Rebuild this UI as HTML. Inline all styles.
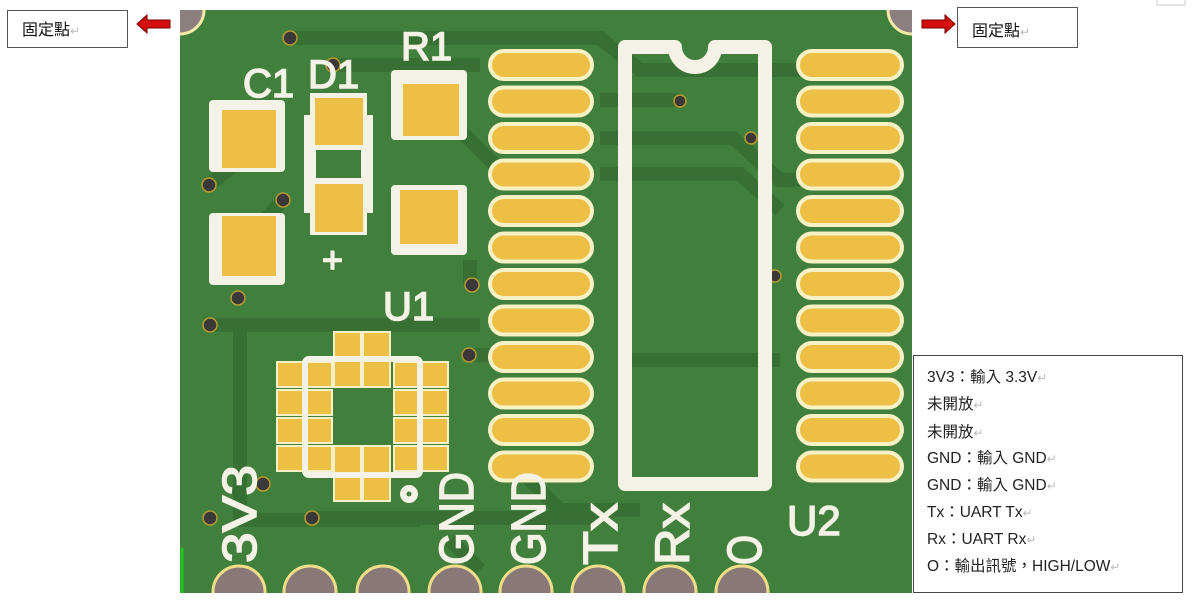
<!DOCTYPE html>
<html><head><meta charset="utf-8"><style>
html,body{margin:0;padding:0;background:#fff;width:1196px;height:600px;overflow:hidden}
svg{display:block}
.cj{font-family:"Liberation Sans","Noto Sans CJK TC",sans-serif}
</style></head><body>
<svg width="1196" height="600" viewBox="0 0 1196 600" xmlns="http://www.w3.org/2000/svg">
<defs>
<clipPath id="b"><rect x="180" y="10" width="732" height="583"/></clipPath>
</defs>
<g clip-path="url(#b)">
<rect x="180" y="10" width="732" height="583" fill="#417f3c"/>
<g stroke="#366f32" stroke-width="14" fill="none" opacity="0.9">
<path d="M290 38 H600 L640 70 H900"/>
<path d="M333 65 H480"/>
<path d="M209 185 L240 160"/>
<path d="M283 200 L260 225"/>
<path d="M460 130 L500 170"/>
<path d="M600 100 H680"/>
<path d="M600 138 H733 L780 180 H800"/>
<path d="M600 174 H740 L780 210"/>
<path d="M210 325 H480"/>
<path d="M240 330 V520 H420"/>
<path d="M312 518 H600"/>
<path d="M470 355 H530"/>
<path d="M450 540 L480 570"/>
<path d="M520 470 L560 510 H640"/>
<path d="M470 285 L470 260"/>
<path d="M620 360 H780"/>
</g>
<circle cx="180" cy="10" r="24" fill="#8c7f80" stroke="#f3e9a8" stroke-width="3"/>
<circle cx="912" cy="10" r="24" fill="#8c7f80" stroke="#f3e9a8" stroke-width="3"/>
<g fill="#3a3838" stroke="#b89a30" stroke-width="1.5">
<circle cx="290" cy="38" r="7"/><circle cx="333" cy="65" r="7"/><circle cx="209" cy="185" r="7"/>
<circle cx="283" cy="200" r="7"/><circle cx="238" cy="298" r="7"/><circle cx="210" cy="325" r="7"/>
<circle cx="472" cy="285" r="7"/><circle cx="469" cy="355" r="7"/><circle cx="263" cy="484" r="7"/>
<circle cx="210" cy="518" r="7"/><circle cx="312" cy="518" r="7"/><circle cx="680" cy="101" r="6"/>
<circle cx="751" cy="138" r="6"/><circle cx="775" cy="276" r="6"/>
</g>
<!-- C1 -->
<rect x="209" y="100" width="76" height="72" rx="4" fill="#f4f2e6"/>
<rect x="222" y="110" width="54" height="58" fill="#eebf45"/>
<rect x="209" y="213" width="76" height="72" rx="4" fill="#f4f2e6"/>
<rect x="222" y="216" width="54" height="60" fill="#eebf45"/>
<!-- D1 -->
<rect x="304" y="115" width="69" height="98" fill="#f4f2e6"/>
<rect x="310" y="93" width="57" height="142" fill="#f4f2e6"/>
<rect x="316" y="150" width="45" height="28" fill="#417f3c"/>
<rect x="315" y="98" width="48" height="47" fill="#eebf45"/>
<rect x="315" y="184" width="48" height="48" fill="#eebf45"/>
<!-- R1 -->
<rect x="391" y="70" width="76" height="70" rx="4" fill="#f4f2e6"/>
<rect x="403" y="84" width="56" height="52" fill="#eebf45"/>
<rect x="391" y="185" width="76" height="70" rx="4" fill="#f4f2e6"/>
<rect x="400" y="190" width="58" height="54" fill="#eebf45"/>
<!-- U1 -->
<g fill="#eebf45" stroke="#f4f0c8" stroke-width="2">
<rect x="277" y="362" width="26" height="25"/><rect x="277" y="390" width="26" height="25"/><rect x="277" y="418" width="26" height="25"/><rect x="277" y="446" width="26" height="25"/>
<rect x="306" y="362" width="26" height="25"/><rect x="306" y="390" width="26" height="25"/><rect x="306" y="418" width="26" height="25"/><rect x="306" y="446" width="26" height="25"/>
<rect x="394" y="362" width="26" height="25"/><rect x="394" y="390" width="26" height="25"/><rect x="394" y="418" width="26" height="25"/><rect x="394" y="446" width="26" height="25"/>
<rect x="422" y="362" width="26" height="25"/><rect x="422" y="390" width="26" height="25"/><rect x="422" y="418" width="26" height="25"/><rect x="422" y="446" width="26" height="25"/>
<rect x="334" y="332" width="27" height="55"/><rect x="363" y="332" width="27" height="55"/>
<rect x="334" y="446" width="27" height="55"/><rect x="363" y="446" width="27" height="55"/>
</g>
<rect x="305" y="359" width="115" height="116" rx="4" fill="none" stroke="#f4f2e6" stroke-width="6"/>
<circle cx="409" cy="494" r="9" fill="#f4f2e6"/><circle cx="409" cy="494" r="2.5" fill="#417f3c"/>
<!-- pads -->
<g fill="#eebf45" stroke="#f7f1c6" stroke-width="4">
<rect x="490" y="51" width="102" height="28" rx="14"/><rect x="490" y="87.5" width="102" height="28" rx="14"/><rect x="490" y="124" width="102" height="28" rx="14"/><rect x="490" y="160.5" width="102" height="28" rx="14"/><rect x="490" y="197" width="102" height="28" rx="14"/><rect x="490" y="233.5" width="102" height="28" rx="14"/><rect x="490" y="270" width="102" height="28" rx="14"/><rect x="490" y="306.5" width="102" height="28" rx="14"/><rect x="490" y="343" width="102" height="28" rx="14"/><rect x="490" y="379.5" width="102" height="28" rx="14"/><rect x="490" y="416" width="102" height="28" rx="14"/><rect x="490" y="452.5" width="102" height="28" rx="14"/>
<rect x="798" y="51" width="104" height="28" rx="14"/><rect x="798" y="87.5" width="104" height="28" rx="14"/><rect x="798" y="124" width="104" height="28" rx="14"/><rect x="798" y="160.5" width="104" height="28" rx="14"/><rect x="798" y="197" width="104" height="28" rx="14"/><rect x="798" y="233.5" width="104" height="28" rx="14"/><rect x="798" y="270" width="104" height="28" rx="14"/><rect x="798" y="306.5" width="104" height="28" rx="14"/><rect x="798" y="343" width="104" height="28" rx="14"/><rect x="798" y="379.5" width="104" height="28" rx="14"/><rect x="798" y="416" width="104" height="28" rx="14"/><rect x="798" y="452.5" width="104" height="28" rx="14"/>
</g>
<!-- IC outline -->
<path d="M625 47 H675 A20 20 0 0 0 715 47 H765 V484 H625 Z" fill="none" stroke="#f4f2e6" stroke-width="14" stroke-linejoin="round"/>
<!-- bottom pins -->
<g fill="#8a7878" stroke="#f0dd8a" stroke-width="3">
<circle cx="239" cy="592" r="26"/><circle cx="310" cy="592" r="26"/><circle cx="383" cy="592" r="26"/><circle cx="455" cy="592" r="26"/><circle cx="526" cy="592" r="26"/><circle cx="598" cy="592" r="26"/><circle cx="670" cy="592" r="26"/><circle cx="742" cy="592" r="26"/>
</g>
<!-- silkscreen text -->
<g fill="#f4f2e6" stroke="#f4f2e6" stroke-width="1.5" font-family="Liberation Sans, sans-serif">
<text x="243" y="97" font-size="40">C1</text>
<text x="308" y="88" font-size="40">D1</text>
<text x="401" y="60" font-size="40">R1</text>
<text x="383" y="320" font-size="40">U1</text>
<text x="787" y="535" font-size="42">U2</text>
<text x="322" y="272" font-size="36">+</text>
<text transform="translate(256,563) rotate(-90)" font-size="48" textLength="98" lengthAdjust="spacingAndGlyphs">3V3</text>
<text transform="translate(473,565) rotate(-90)" font-size="48" textLength="93" lengthAdjust="spacingAndGlyphs">GND</text>
<text transform="translate(545,565) rotate(-90)" font-size="48" textLength="93" lengthAdjust="spacingAndGlyphs">GND</text>
<text transform="translate(617,565) rotate(-90)" font-size="48" textLength="62" lengthAdjust="spacingAndGlyphs">Tx</text>
<text transform="translate(689,565) rotate(-90)" font-size="48" textLength="62" lengthAdjust="spacingAndGlyphs">Rx</text>
<text transform="translate(761,565) rotate(-90)" font-size="48" textLength="30" lengthAdjust="spacingAndGlyphs">O</text>
</g>
<path d="M182 548 V593" stroke="#1ec81e" stroke-width="3"/>
</g>
<!-- callouts -->
<rect x="7.5" y="10.5" width="120" height="37" fill="#fff" stroke="#555"/>
<text x="22" y="35" class="cj" font-size="16" fill="#111">固定點<tspan fill="#bbb" font-size="12">↵</tspan></text>
<path d="M137 24 L147 15 V20 H170 V28 H147 V33 Z" fill="#d40d0d" stroke="#7a0000" stroke-width="1"/>
<path d="M955 24 L945 15 V20 H922 V28 H945 V33 Z" fill="#d40d0d" stroke="#7a0000" stroke-width="1"/>
<rect x="957.5" y="7.5" width="120" height="40" fill="#fff" stroke="#555"/>
<text x="972" y="36" class="cj" font-size="16" fill="#111">固定點<tspan fill="#bbb" font-size="12">↵</tspan></text>
<path d="M1157 0 V5 H1185 V0" fill="none" stroke="#ccc"/>
<rect x="913.5" y="355.5" width="269" height="237" fill="#fff" stroke="#444"/>
<g class="cj" font-size="15.5" fill="#222">
<text x="927" y="382">3V3：輸入 3.3V<tspan fill="#bbb" font-size="12">↵</tspan></text>
<text x="927" y="409">未開放<tspan fill="#bbb" font-size="12">↵</tspan></text>
<text x="927" y="437">未開放<tspan fill="#bbb" font-size="12">↵</tspan></text>
<text x="927" y="463">GND：輸入 GND<tspan fill="#bbb" font-size="12">↵</tspan></text>
<text x="927" y="490">GND：輸入 GND<tspan fill="#bbb" font-size="12">↵</tspan></text>
<text x="927" y="517">Tx：UART Tx<tspan fill="#bbb" font-size="12">↵</tspan></text>
<text x="927" y="544">Rx：UART Rx<tspan fill="#bbb" font-size="12">↵</tspan></text>
<text x="927" y="571">O：輸出訊號，HIGH/LOW<tspan fill="#bbb" font-size="12">↵</tspan></text>
</g>
</svg>
</body></html>
